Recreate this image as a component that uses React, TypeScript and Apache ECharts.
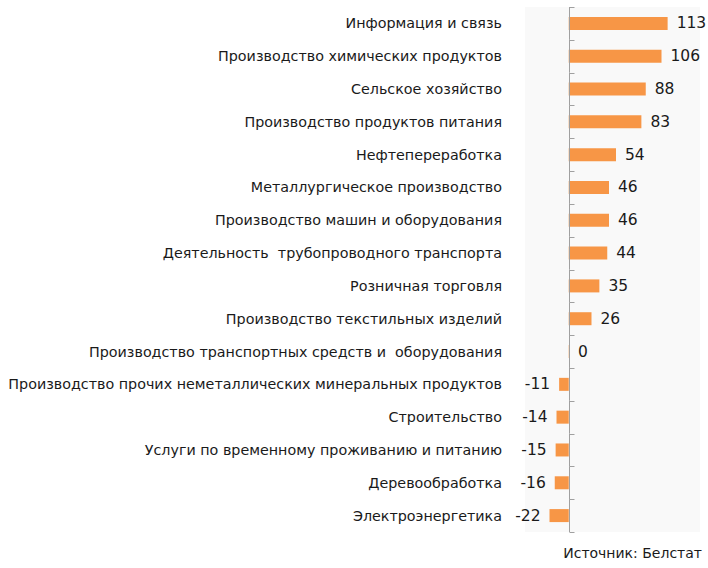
import React, { useEffect, useRef } from "react";
import * as echarts from "echarts";

const categories = [
  "Информация и связь",
  "Производство химических продуктов",
  "Сельское хозяйство",
  "Производство продуктов питания",
  "Нефтепереработка",
  "Металлургическое производство",
  "Производство машин и оборудования",
  "Деятельность  трубопроводного транспорта",
  "Розничная торговля",
  "Производство текстильных изделий",
  "Производство транспортных средств и  оборудования",
  "Производство прочих неметаллических минеральных продуктов",
  "Строительство",
  "Услуги по временному проживанию и питанию",
  "Деревообработка",
  "Электроэнергетика",
];

const values = [113, 106, 88, 83, 54, 46, 46, 44, 35, 26, 0.3, -11, -14, -15, -16, -22];

const sourceText = "Источник: Белстат";

const FONT = "DejaVu Sans";
const AXIS_COLOR = "#a0a0a0";

export default function App() {
  const ref = useRef<HTMLDivElement>(null);

  useEffect(() => {
    if (!ref.current) return;
    const chart = echarts.init(ref.current, null, { renderer: "svg" });
    chart.setOption({
      animation: false,
      backgroundColor: "#ffffff",
      textStyle: { fontFamily: FONT },
      grid: {
        left: 525,
        right: 8,
        top: 7,
        bottom: 36,
        containLabel: false,
        show: true,
        backgroundColor: "#f9f9f9",
        borderWidth: 0,
      },
      xAxis: {
        type: "value",
        min: -50,
        max: 150,
        show: false,
        splitLine: { show: false },
      },
      yAxis: {
        type: "category",
        data: categories,
        inverse: true,
        position: "left",
        axisLine: { show: false, onZero: false },
        axisTick: { show: false },
        axisLabel: {
          margin: 23,
          fontSize: 14.3,
          color: "#1a1a1a",
          fontFamily: FONT,
        },
      },
      series: [
        {
          type: "bar",
          data: values.map((v) => ({
            value: v,
            label: { position: v < 0 ? "left" : "right" },
          })),
          barWidth: 13,
          itemStyle: { color: "#f79646" },
          label: {
            show: true,
            distance: 9,
            fontSize: 15.5,
            color: "#1a1a1a",
            fontFamily: FONT,
            formatter: (p: any) => String(Math.round(p.value)),
          },
        },
        {
          // zero line with a tick at every category boundary
          type: "custom",
          silent: true,
          z: 3,
          data: categories.map((_, i) => [0, i]),
          renderItem: (params: any, api: any) => {
            const i = api.value(1);
            const c = api.coord([0, i]);
            const band = api.size([0, 1])[1];
            const x = Math.round(c[0]) + 0.5;
            const top = c[1] - band / 2;
            const bottom = c[1] + band / 2;
            const children: any[] = [
              {
                type: "line",
                shape: { x1: x, y1: top, x2: x, y2: bottom },
                style: { stroke: AXIS_COLOR, lineWidth: 1 },
              },
              {
                type: "line",
                shape: { x1: x, y1: Math.round(top) + 0.5, x2: x + 5, y2: Math.round(top) + 0.5 },
                style: { stroke: AXIS_COLOR, lineWidth: 1 },
              },
            ];
            if (i === categories.length - 1) {
              children.push({
                type: "line",
                shape: { x1: x, y1: Math.round(bottom) + 0.5, x2: x + 5, y2: Math.round(bottom) + 0.5 },
                style: { stroke: AXIS_COLOR, lineWidth: 1 },
              });
            }
            return { type: "group", children };
          },
        },
      ],
      graphic: [
        {
          type: "text",
          right: 6,
          top: 546,
          style: {
            text: sourceText,
            fontSize: 14,
            fill: "#1a1a1a",
            fontFamily: FONT,
          },
        },
      ],
    });
    return () => chart.dispose();
  }, []);

  return <div ref={ref} style={{ width: 708, height: 568, position: "absolute", left: 0, top: 0 }} />;
}
